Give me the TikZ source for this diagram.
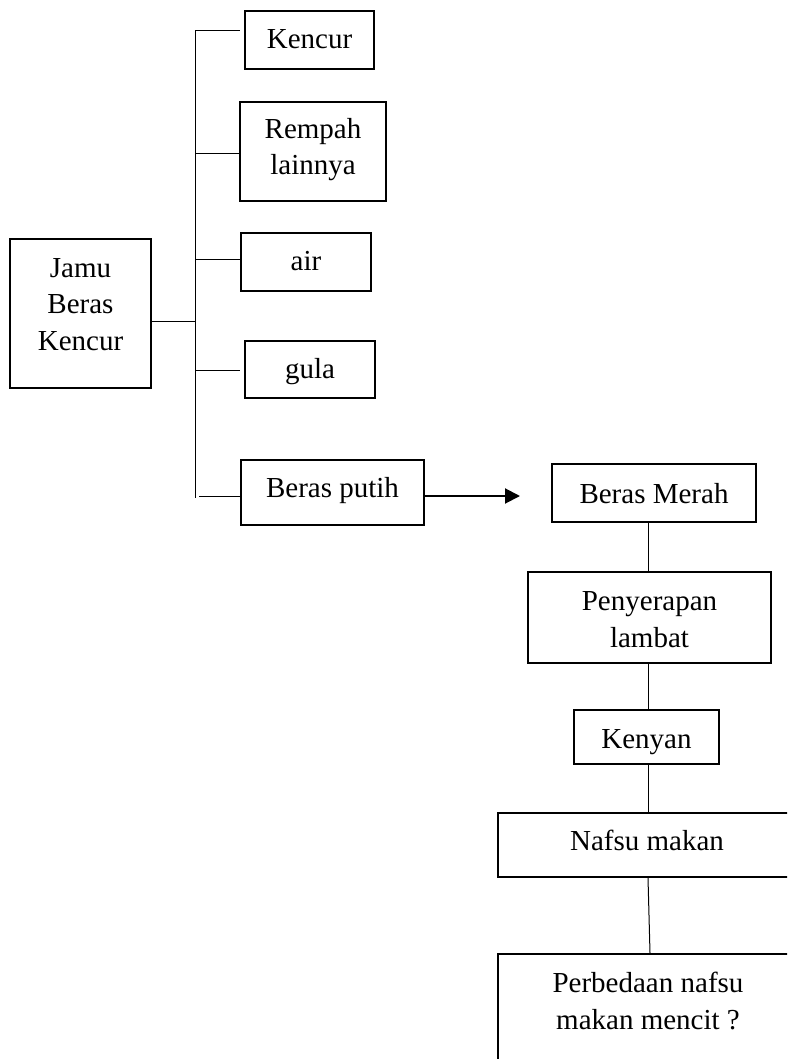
\documentclass[tikz,border=0pt]{standalone}
\usepackage{fontspec}
\setmainfont{Liberation Serif}
\usetikzlibrary{arrows.meta}
\begin{document}
\begin{tikzpicture}[x=1pt,y=-1pt,
  box/.style={draw, line width=1.8pt, inner sep=0pt, align=center,
    font=\fontsize{29}{36.5}\selectfont},
  conn/.style={line width=1pt},
  arr/.style={line width=2pt, -{Triangle[length=15pt,width=15pt]}}
]
\clip (0,0) rectangle (787,1059);
\fill[white] (0,0) rectangle (787,1059);
% left group
\node[box, minimum width=141pt, minimum height=149pt, text height=93pt, text depth=20pt] (jamu) at (80.5,313.5) {Jamu\\Beras\\Kencur};
\node[box, minimum width=129pt, minimum height=58pt, text height=20pt, text depth=2pt] (kencur) at (309.5,40) {Kencur};
\node[box, minimum width=146pt, minimum height=99pt, text height=70pt, text depth=23pt] (rempah) at (313,151.5) {Rempah\\lainnya};
\node[box, minimum width=130pt, minimum height=58pt, text height=20pt, text depth=4pt] (air) at (306,262) {air};
\node[box, minimum width=130pt, minimum height=57pt, text height=20pt, text depth=3pt] (gula) at (310,369.5) {gula};
\node[box, minimum width=183pt, minimum height=65pt, text height=20pt, text depth=11pt] (putih) at (332.5,492.5) {Beras putih};
% right column
\node[box, minimum width=204pt, minimum height=58pt, text height=20pt, text depth=0pt] (merah) at (654,493) {Beras Merah};
\node[box, minimum width=243pt, minimum height=89pt, text height=75pt, text depth=16pt] (pen) at (649.5,617.5) {Penyerapan\\lambat};
\node[box, minimum width=145pt, minimum height=54pt, text height=22pt, text depth=0pt] (kenyan) at (646.5,737) {Kenyan};
\node[box, minimum width=298pt, minimum height=64pt, text height=20pt, text depth=10pt] (nafsu) at (647,845) {Nafsu makan};
\node[box, minimum width=300pt, minimum height=140pt, text height=60pt, text depth=50pt] (perb) at (648,1024) {Perbedaan nafsu\\makan mencit ?};
% tree coordinates
\coordinate (t1) at (195,31);
\coordinate (t5) at (195,498);
\coordinate (tj) at (195,321);
\coordinate (e1) at (240,31);
\coordinate (t2) at (195,154);
\coordinate (t3) at (195,259);
\coordinate (t4) at (195,370);
\coordinate (e4) at (240,370);
\coordinate (s5) at (199,496);
\coordinate (ah) at (520,496);
\coordinate (ax) at (648,0);
\coordinate (ax2) at (650,0);
% connectors
\draw[conn] (t1) -- (t5);
\draw[conn] (jamu.east |- tj) -- (tj);
\draw[conn] (t1) -- (e1);
\draw[conn] (t2) -- (t2 -| rempah.west);
\draw[conn] (t3) -- (t3 -| air.west);
\draw[conn] (t4) -- (e4);
\draw[conn] (s5) -- (s5 -| putih.west);
\draw[arr] (putih.east |- ah) -- (ah);
\draw[conn] (merah.south -| ax) -- (pen.north -| ax);
\draw[conn] (pen.south -| ax) -- (kenyan.north -| ax);
\draw[conn] (kenyan.south -| ax) -- (nafsu.north -| ax);
\draw[conn] (nafsu.south -| ax) -- (perb.north -| ax2);
\end{tikzpicture}
\end{document}
